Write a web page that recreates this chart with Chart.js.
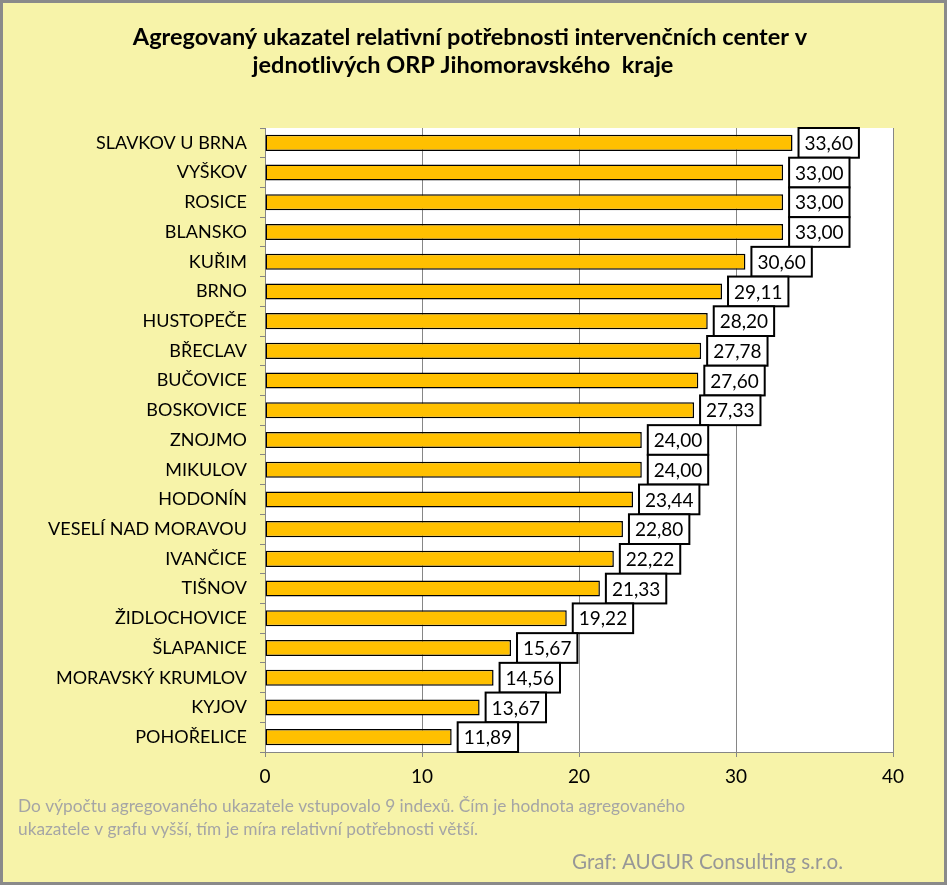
<!DOCTYPE html>
<html>
<head>
<meta charset="utf-8">
<script src="https://cdn.jsdelivr.net/npm/chart.js@4"></script>
<style>
  body { margin: 0; background: #fff; }
  #wrap { width: 947px; height: 885px; position: relative; }
</style>
</head>
<body>
<div id="wrap"><canvas id="grafico"></canvas></div>
<script>
const ctx = document.getElementById('grafico');

// data
let kategorie = ["SLAVKOV U BRNA","VYŠKOV","ROSICE","BLANSKO","KUŘIM","BRNO","HUSTOPEČE","BŘECLAV","BUČOVICE","BOSKOVICE","ZNOJMO","MIKULOV","HODONÍN","VESELÍ NAD MORAVOU","IVANČICE","TIŠNOV","ŽIDLOCHOVICE","ŠLAPANICE","MORAVSKÝ KRUMLOV","KYJOV","POHOŘELICE"]
let hodnoty = [33.60,33.00,33.00,33.00,30.60,29.11,28.20,27.78,27.60,27.33,24.00,24.00,23.44,22.80,22.22,21.33,19.22,15.67,14.56,13.67,11.89]
let osaX = [0,10,20,30,40]

let titulek = ["Agregovaný ukazatel relativní potřebnosti intervenčních center v","jednotlivých ORP Jihomoravského  kraje"]
let poznamka = ["Do výpočtu agregovaného ukazatele vstupovalo 9 indexů. Čím je hodnota agregovaného","ukazatele v grafu vyšší, tím je míra relativní potřebnosti větší."]
let zdroj = "Graf: AUGUR Consulting s.r.o."

const pismo = "Lato, 'Liberation Sans', sans-serif"
const cislo = v => v.toFixed(2).replace('.', ',')

// background, plot area and the outer frame
const pozadi = {
  id: 'pozadi',
  beforeDraw(chart) {
    const c = chart.ctx, a = chart.chartArea
    c.save()
    c.fillStyle = '#F7F3A9'
    c.fillRect(0, 0, chart.width, chart.height)
    c.fillStyle = '#FFFFFF'
    c.fillRect(a.left, a.top, a.right - a.left, a.bottom - a.top)
    c.strokeStyle = '#8A8A8A'
    c.lineWidth = 3
    c.strokeRect(1.5, 1.5, chart.width - 3, chart.height - 3)
    c.restore()
  }
}

// value boxes next to the bars
const popisky = {
  id: 'popisky',
  afterDatasetsDraw(chart) {
    const c = chart.ctx
    const meta = chart.getDatasetMeta(0)
    const krok = chart.scales.y.getPixelForValue(1) - chart.scales.y.getPixelForValue(0)
    c.save()
    c.font = '19px ' + pismo
    c.textAlign = 'center'
    c.textBaseline = 'middle'
    meta.data.forEach((bar, i) => {
      const t = cislo(hodnoty[i])
      const w = c.measureText(t).width + 12
      const h = krok
      const x = bar.x + 6
      const y = bar.y - h / 2
      c.fillStyle = '#FFFFFF'
      c.fillRect(x, y, w, h)
      c.strokeStyle = '#000000'
      c.lineWidth = 2
      c.strokeRect(x, y, w, h)
      c.fillStyle = '#000000'
      c.fillText(t, x + w / 2, bar.y + 1)
    })
    c.restore()
  }
}

// title on top, note and source under the chart
const texty = {
  id: 'texty',
  afterDraw(chart) {
    const c = chart.ctx
    c.save()
    c.fillStyle = '#000000'
    c.font = 'bold 23.5px ' + pismo
    c.textAlign = 'center'
    c.textBaseline = 'middle'
    c.fillText(titulek[0], 470, 37)
    c.fillText(titulek[1], 463, 65)
    c.textAlign = 'left'
    c.fillStyle = '#A5A5A5'
    c.font = '17.3px ' + pismo
    c.fillText(poznamka[0], 18, 806)
    c.fillText(poznamka[1], 18, 829)
    c.fillStyle = '#979797'
    c.font = '20.6px ' + pismo
    c.fillText(zdroj, 572, 862)
    c.restore()
  }
}

let grafico = new Chart(ctx, {
  type: 'bar',
  data: {
    labels: kategorie,
    datasets: [{
      data: hodnoty,
      backgroundColor: '#FFC000',
      borderColor: '#000000',
      borderWidth: 1.5,
      borderSkipped: false,
      categoryPercentage: 1,
      barPercentage: 0.54
    }]
  },
  options: {
    indexAxis: 'y',
    responsive: true,
    maintainAspectRatio: false,
    animation: false,
    layout: { padding: { left: 0, right: 54, top: 128, bottom: 0 } },
    plugins: {
      legend: { display: false },
      tooltip: { enabled: false },
      title: { display: false }
    },
    scales: {
      x: {
        min: 0,
        max: 40,
        afterBuildTicks: s => { s.ticks = osaX.map(v => ({ value: v })) },
        afterFit: s => { s.height = 133 },
        grid: { color: '#868686', lineWidth: 1, tickLength: 5 },
        border: { color: '#868686' },
        ticks: { color: '#000000', font: { family: pismo, size: 19 }, padding: 8 }
      },
      y: {
        afterFit: s => { s.width = 265 },
        grid: { drawOnChartArea: false, color: '#868686', tickLength: 5 },
        border: { color: '#868686' },
        ticks: { color: '#000000', font: { family: pismo, size: 18 }, padding: 13 }
      }
    }
  },
  plugins: [pozadi, popisky, texty]
});
</script>
</body>
</html>
